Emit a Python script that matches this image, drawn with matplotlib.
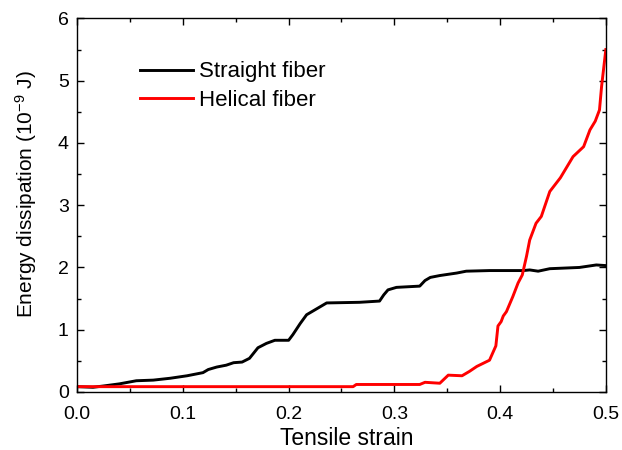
import matplotlib
matplotlib.use("Agg")
import matplotlib.pyplot as plt
from matplotlib.ticker import MultipleLocator

plt.rcParams['font.family'] = ['Liberation Sans', 'DejaVu Sans']
plt.rcParams['mathtext.default'] = 'regular'

# Straight fiber (black)
straight_x = [0.0, 0.015, 0.025, 0.04, 0.056, 0.072, 0.088, 0.104, 0.119, 0.124, 0.132,
              0.141, 0.148, 0.156, 0.163, 0.171, 0.179, 0.187, 0.200, 0.204, 0.211, 0.217,
              0.227, 0.236, 0.267, 0.286, 0.290, 0.294, 0.302, 0.324, 0.329, 0.334, 0.343,
              0.359, 0.368, 0.390, 0.422, 0.428, 0.436, 0.447, 0.475, 0.491, 0.5]
straight_y = [0.085, 0.075, 0.096, 0.13, 0.18, 0.19, 0.22, 0.26, 0.31, 0.36, 0.40,
              0.43, 0.47, 0.48, 0.54, 0.71, 0.78, 0.83, 0.83, 0.92, 1.10, 1.24,
              1.34, 1.43, 1.44, 1.46, 1.56, 1.64, 1.68, 1.70, 1.79, 1.84, 1.87,
              1.91, 1.94, 1.95, 1.95, 1.96, 1.94, 1.98, 2.00, 2.04, 2.03]

# Helical fiber (red)
helical_x = [0.0, 0.261, 0.264, 0.324, 0.329, 0.343, 0.351, 0.364, 0.371, 0.378, 0.390,
             0.396, 0.398, 0.401, 0.403, 0.406, 0.412, 0.417, 0.421, 0.425, 0.428, 0.434,
             0.439, 0.447, 0.457, 0.469, 0.479, 0.485, 0.490, 0.494, 0.496, 0.5]
helical_y = [0.085, 0.085, 0.12, 0.12, 0.155, 0.14, 0.27, 0.26, 0.33, 0.41, 0.51,
             0.74, 1.06, 1.13, 1.22, 1.29, 1.53, 1.75, 1.88, 2.18, 2.44, 2.71,
             2.82, 3.22, 3.44, 3.78, 3.94, 4.21, 4.35, 4.53, 4.91, 5.50]

fig = plt.figure(figsize=(6.22, 4.5), dpi=100)
ax = fig.add_axes([0.124, 0.129, 0.850, 0.830])

ax.plot(straight_x, straight_y, color='black', lw=2.1, label='Straight fiber')
ax.plot(helical_x, helical_y, color='#ff0000', lw=2.1, label='Helical fiber')

ax.set_xlim(0, 0.5)
ax.set_ylim(0, 6)
ax.xaxis.set_major_locator(MultipleLocator(0.1))
ax.xaxis.set_minor_locator(MultipleLocator(0.05))
ax.yaxis.set_major_locator(MultipleLocator(1))
ax.yaxis.set_minor_locator(MultipleLocator(0.5))
ax.tick_params(which='both', direction='in', top=True, right=True, labelsize=14, width=1)
ax.tick_params(which='major', length=5)
ax.tick_params(which='minor', length=3)
ax.tick_params(axis='x', which='major', pad=10)
ax.tick_params(axis='y', which='major', pad=6)
for s in ax.spines.values():
    s.set_linewidth(1)

ax.set_xlabel('Tensile strain', fontsize=16.5, labelpad=3)
ax.xaxis.set_label_coords(0.51, -0.095)
ax.set_ylabel('Energy dissipation (10$^{-9}$ J)', fontsize=15, labelpad=8)
ax.yaxis.set_label_coords(-0.072, 0.53)

ax.legend(loc='upper left', bbox_to_anchor=(0.119, 0.885), frameon=False, fontsize=16,
          handlelength=2.4, handletextpad=0.25, labelspacing=0.35,
          borderaxespad=0, borderpad=0)

fig.savefig('out.png', dpi=100)
